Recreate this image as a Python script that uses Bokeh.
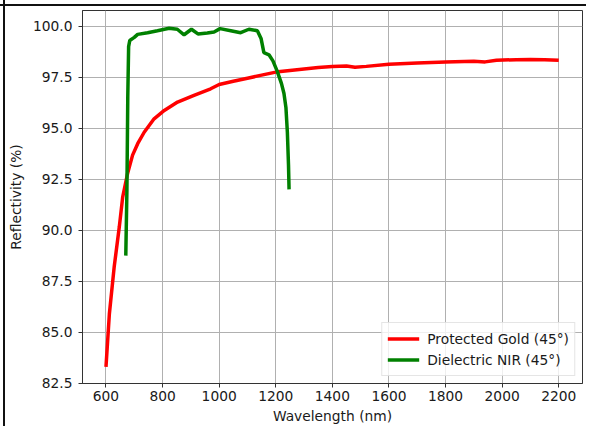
from bokeh.plotting import figure
from bokeh.models import FixedTicker, PrintfTickFormatter, Legend, LegendItem, Range1d
from bokeh.embed import file_html
from bokeh.resources import INLINE

# Protected Gold (45°)
gold_wl = [600, 612, 629, 647, 659, 676, 694, 712, 735, 770, 806, 853, 911, 970,
           1000, 1050, 1100, 1150, 1200, 1250, 1300, 1350, 1400, 1450, 1480, 1520,
           1600, 1700, 1800, 1900, 1940, 1980, 2050, 2100, 2150, 2200]
gold_r = [83.3, 85.9, 88.2, 90.15, 91.62, 92.76, 93.68, 94.24, 94.8, 95.46, 95.87, 96.28, 96.61, 96.93,
          97.14, 97.3, 97.45, 97.6, 97.75, 97.83, 97.9, 97.97, 98.02, 98.05, 97.99, 98.03,
          98.14, 98.2, 98.25, 98.28, 98.25, 98.33, 98.36, 98.37, 98.35, 98.33]

# Dielectric NIR (45°)
nir_wl = [670, 674, 677, 680, 684, 700, 712, 747, 782, 823, 852, 876, 902, 925, 958, 982,
          1003, 1041, 1076, 1105, 1135, 1148, 1158, 1176, 1190, 1205, 1220, 1229, 1236,
          1241, 1245, 1247]
nir_r = [88.75, 92.0, 96.5, 99.0, 99.3, 99.45, 99.6, 99.68, 99.78, 99.9, 99.85, 99.58, 99.85,
         99.62, 99.67, 99.72, 99.88, 99.78, 99.68, 99.85, 99.78, 99.4, 98.7, 98.6, 98.3,
         97.8, 97.2, 96.7, 96.0, 94.8, 93.2, 92.0]

x_ticks = [600, 800, 1000, 1200, 1400, 1600, 1800, 2000, 2200]
y_ticks = [82.5, 85.0, 87.5, 90.0, 92.5, 95.0, 97.5, 100.0]

FONT = "DejaVu Sans"
FS = "13.8px"
TXT = "#1a1a1a"

p = figure(width=586, height=426,
           x_range=Range1d(517, 2284), y_range=Range1d(82.48, 100.77),
           output_backend="svg", toolbar_location=None,
           min_border_left=82, min_border_top=10, min_border_right=4, min_border_bottom=43,
           x_axis_label="Wavelength (nm)", y_axis_label="Reflectivity (%)")

r1 = p.line(gold_wl, gold_r, line_color="#ff0000", line_width=3.5)
r2 = p.line(nir_wl, nir_r, line_color="#008000", line_width=3.5)

p.xaxis.ticker = FixedTicker(ticks=x_ticks)
p.yaxis.ticker = FixedTicker(ticks=y_ticks)
p.yaxis.formatter = PrintfTickFormatter(format="%.1f")

for ax in (p.xaxis, p.yaxis):
    ax.minor_tick_line_color = None
    ax.major_tick_in = 0
    ax.major_tick_out = 4
    ax.axis_line_color = "#333333"
    ax.major_tick_line_color = "#333333"
    ax.major_label_text_font = FONT
    ax.major_label_text_font_size = FS
    ax.major_label_text_color = TXT
    ax.axis_label_text_font = FONT
    ax.axis_label_text_font_size = FS
    ax.axis_label_text_font_style = "normal"
    ax.axis_label_text_color = TXT
p.yaxis.axis_label_standoff = 6
p.yaxis.major_label_standoff = 6
p.xaxis.axis_label_standoff = 4
p.xaxis.major_label_standoff = 3

p.outline_line_color = "#333333"
p.outline_line_width = 1
p.grid.grid_line_color = "#b0b0b0"
p.grid.grid_line_width = 1
p.background_fill_color = "white"
p.border_fill_alpha = 0
# outer black frame of the screenshot (top and left edges)
p.styles = {"background": ("linear-gradient(#111111, #111111) 3px 0px / 2px 100% no-repeat, "
                           "linear-gradient(#111111, #111111) 0px 4px / 100% 2px no-repeat, "
                           "#ffffff")}

legend = Legend(items=[LegendItem(label="Protected Gold (45°)", renderers=[r1]),
                       LegendItem(label="Dielectric NIR (45°)", renderers=[r2])],
                location="bottom_right")
legend.label_text_font = FONT
legend.label_text_font_size = FS
legend.label_text_color = TXT
legend.glyph_width = 32
legend.glyph_height = 21
legend.label_height = 21
legend.spacing = 0
legend.padding = 5
legend.margin = 7
legend.label_standoff = 8
legend.border_line_color = "#cccccc"
legend.background_fill_alpha = 0.8
p.add_layout(legend)

open("out.html", "w").write(file_html(p, INLINE))
